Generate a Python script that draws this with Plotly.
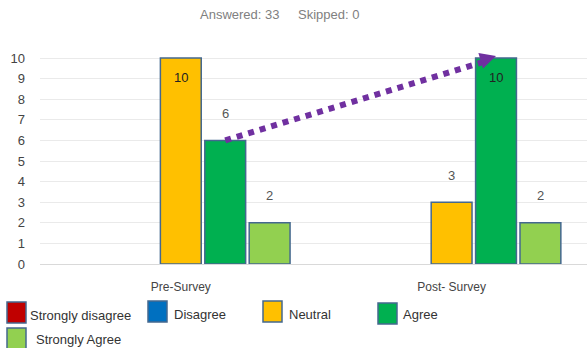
import math
import plotly.graph_objects as go

# Survey responses per rating, for each survey round
categories = ["Pre-Survey", "Post- Survey"]
series_names = ["Strongly disagree", "Disagree", "Neutral", "Agree", "Strongly Agree"]
series_colors = ["#C00000", "#0070C0", "#FFC000", "#00B050", "#92D050"]
strongly_disagree = [0, 0]
disagree = [0, 0]
neutral = [10, 3]
agree = [6, 10]
strongly_agree = [2, 2]
y_ticks = list(range(0, 11))
answered = 33
skipped = 0

series_values = [strongly_disagree, disagree, neutral, agree, strongly_agree]

W, H = 587, 348
ML, MR, MT, MB = 40, 0, 55, 84
PW, PH = W - ML - MR, H - MT - MB
X_RANGE = [-0.52, 1.5]
Y_RANGE = [0, 10.15]
BARGAP = 0.18
OUTLINE = "#44688F"
PURPLE = "#7030A0"
FONT = "Liberation Sans, Arial, sans-serif"

x_pos = list(range(len(categories)))
x_scale = PW / (X_RANGE[1] - X_RANGE[0])
y_scale = PH / (Y_RANGE[1] - Y_RANGE[0])


def px_x(px):
    return (px - ML) / PW


def px_y(py):
    return (H - MB - py) / PH


fig = go.Figure()
for name, color, vals in zip(series_names, series_colors, series_values):
    fig.add_trace(go.Bar(
        x=x_pos, y=vals, name=name,
        marker=dict(color=color,
                    line=dict(color=OUTLINE, width=[1.5 if v else 0 for v in vals])),
        showlegend=False, hoverinfo="skip",
    ))

# offset of each series within a group, in x-axis units
slot = (1 - BARGAP) / len(series_names)
offsets = [(i - (len(series_names) - 1) / 2) * slot for i in range(len(series_names))]

# value labels: inside the top of the tallest bars, above the others
annotations = []
ymax = max(max(v) for v in series_values)
for vals, off in zip(series_values, offsets):
    for xi, v in zip(x_pos, vals):
        if v == 0:
            continue
        inside = v == ymax
        annotations.append(dict(
            x=xi + off, y=v, xref="x", yref="y", text=str(v), showarrow=False,
            yanchor="middle", yshift=-19 if inside else 27,
            font=dict(family=FONT, size=13, color="#222" if inside else "#555"),
        ))

# dotted trend arrow between the two "Agree" bars
ai = series_names.index("Agree")
x_start, y_start = x_pos[0] + offsets[ai], agree[0]
x_end, y_end = x_pos[1] + offsets[ai], agree[1]
dx_px = (x_end - x_start) * x_scale
dy_px = -(y_end - y_start) * y_scale
length = math.hypot(dx_px, dy_px)
ux, uy = dx_px / length, dy_px / length
back = 12  # pixels the dotted line stops short of the arrow tip

fig.add_trace(go.Scatter(
    x=[x_start, x_end - back * ux / x_scale],
    y=[y_start, y_end + back * uy / y_scale],
    mode="lines",
    line=dict(color=PURPLE, width=6, dash="6px,6px"),
    showlegend=False, hoverinfo="skip", cliponaxis=False,
))
annotations.append(dict(
    x=x_end, y=y_end, xref="x", yref="y", text="", showarrow=True,
    ax=-10 * ux, ay=-10 * uy, axref="pixel", ayref="pixel",
    arrowhead=2, arrowwidth=2, arrowsize=1.6, arrowcolor=PURPLE,
    standoff=0, startstandoff=0, yshift=2,
))

# header text
annotations.append(dict(x=px_x(198), y=px_y(15), xref="paper", yref="paper",
                        text=f"Answered: {answered}", showarrow=False,
                        xanchor="left", yanchor="middle",
                        font=dict(family=FONT, size=13, color="#808080")))
annotations.append(dict(x=px_x(296), y=px_y(15), xref="paper", yref="paper",
                        text=f"Skipped: {skipped}", showarrow=False,
                        xanchor="left", yanchor="middle",
                        font=dict(family=FONT, size=13, color="#808080")))

# legend drawn as swatches with labels beneath the chart
# (swatch left, swatch top, label left, label centre line)
legend_slots = [(7, 302, 28, 315), (148, 301, 172, 314), (263, 301, 287, 314),
                (378, 303, 401, 314), (7, 328, 34, 339)]
shapes = []
for (sx, sy, tx, ty), name, color in zip(legend_slots, series_names, series_colors):
    shapes.append(dict(type="rect", xref="paper", yref="paper",
                       x0=px_x(sx), x1=px_x(sx + 19), y0=px_y(sy), y1=px_y(sy + 21),
                       fillcolor=color, line=dict(color=OUTLINE, width=1.5)))
    annotations.append(dict(x=px_x(tx), y=px_y(ty), xref="paper", yref="paper",
                            text=name, showarrow=False, xanchor="left", yanchor="middle",
                            font=dict(family=FONT, size=13, color="#333")))

fig.update_layout(
    width=W, height=H,
    margin=dict(l=ML, r=MR, t=MT, b=MB),
    paper_bgcolor="white", plot_bgcolor="white",
    barmode="group", bargap=BARGAP, bargroupgap=0.08,
    font=dict(family=FONT, size=12, color="#444"),
    annotations=annotations, shapes=shapes,
    xaxis=dict(range=X_RANGE, tickvals=x_pos, ticktext=categories,
               showgrid=False, zeroline=False, showline=False,
               ticks="", ticklabelstandoff=14,
               tickfont=dict(family=FONT, size=12, color="#444")),
    yaxis=dict(range=Y_RANGE, tickvals=y_ticks, showgrid=True,
               gridcolor="#EAEAEA", gridwidth=1, zeroline=True,
               zerolinecolor="#D9D9D9", zerolinewidth=1, showline=False,
               ticks="", ticklabelstandoff=14,
               tickfont=dict(family=FONT, size=13, color="#444")),
)

fig.write_html("out.html")
